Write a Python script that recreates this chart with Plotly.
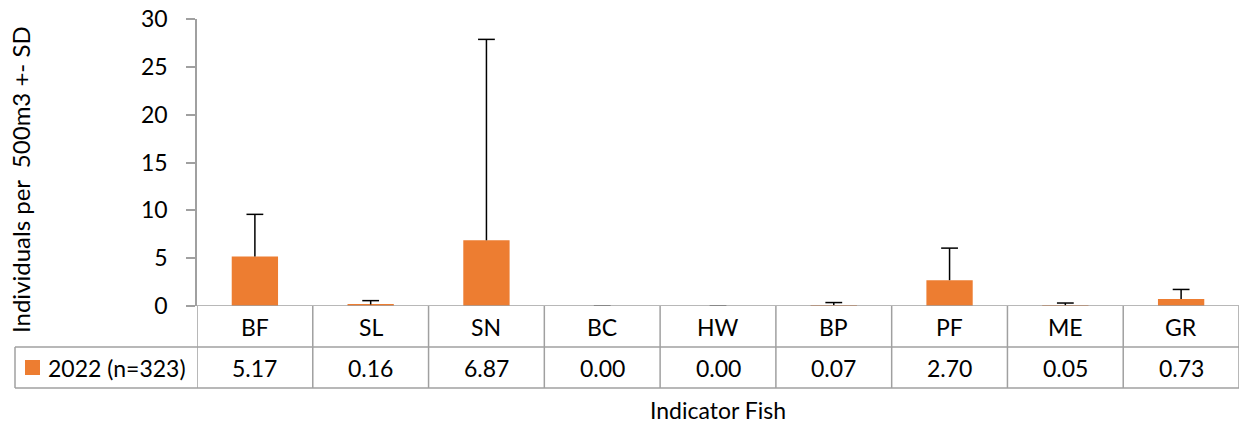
import plotly.graph_objects as go

categories = ["BF", "SL", "SN", "BC", "HW", "BP", "PF", "ME", "GR"]
means = [5.17, 0.16, 6.87, 0.00, 0.00, 0.07, 2.70, 0.05, 0.73]
sds = [4.41, 0.40, 21.0, 0.0, 0.0, 0.29, 3.35, 0.26, 1.0]
series_name = "2022 (n=323)"
y_ticks = [0, 5, 10, 15, 20, 25, 30]

W, H = 1239, 423
L, R, T, B = 197, 0, 19, 117
pw, ph = W - L - R, H - T - B
axis_y_px = H - B

def px_x(p):
    return (p - L) / pw

def px_y(p):
    return (axis_y_px - p) / ph

FONT = "Lato, 'Open Sans', sans-serif"
GRAY = "#A0A0A0"
ORANGE = "#ED7D31"
FS = 23

fig = go.Figure()
fig.add_trace(go.Bar(
    x=categories, y=means, name=series_name, width=0.4,
    marker=dict(color=ORANGE, line=dict(width=0)),
    error_y=dict(type="data", array=sds, symmetric=False, arrayminus=[0] * len(sds),
                 color="#000000", thickness=1.5, width=0),
))
# caps at the top of each error bar
tops = [m + s for m, s in zip(means, sds)]
fig.add_trace(go.Scatter(
    x=categories, y=tops, mode="markers", hoverinfo="skip",
    marker=dict(symbol="line-ew", size=12, line=dict(color="#000000", width=1.5)),
))

shapes = []
row1 = px_y(347)
row2 = px_y(388)
left_cell = px_x(15)
for i in range(len(categories) + 1):
    shapes.append(dict(type="line", xref="x", yref="paper", x0=i - 0.5, x1=i - 0.5,
                       y0=0, y1=row2, line=dict(color=GRAY, width=1.5)))
shapes.append(dict(type="line", xref="paper", yref="paper", x0=left_cell, x1=1,
                   y0=row1, y1=row1, line=dict(color=GRAY, width=1.5)))
shapes.append(dict(type="line", xref="paper", yref="paper", x0=left_cell, x1=1,
                   y0=row2, y1=row2, line=dict(color=GRAY, width=1.5)))
shapes.append(dict(type="line", xref="paper", yref="paper", x0=left_cell, x1=left_cell,
                   y0=row1, y1=row2, line=dict(color=GRAY, width=1.5)))
shapes.append(dict(type="rect", xref="paper", yref="paper", x0=px_x(25), x1=px_x(40),
                   y0=px_y(375), y1=px_y(360), fillcolor=ORANGE, line=dict(width=0)))
shapes.append(dict(type="line", xref="paper", yref="y", x0=0, x1=1, y0=0, y1=0,
                   line=dict(color=GRAY, width=1.5), layer="above"))

annotations = []
for c, v in zip(categories, means):
    annotations.append(dict(x=c, xref="x", y=px_y(327), yref="paper", text=c,
                            showarrow=False, xanchor="center", yanchor="middle",
                            font=dict(family=FONT, size=FS, color="#000")))
    annotations.append(dict(x=c, xref="x", y=px_y(368), yref="paper", text=f"{v:.2f}",
                            showarrow=False, xanchor="center", yanchor="middle",
                            font=dict(family=FONT, size=FS, color="#000")))
annotations.append(dict(x=px_x(46), xref="paper", y=px_y(368), yref="paper",
                        text=series_name, showarrow=False, xanchor="left", yanchor="middle",
                        font=dict(family=FONT, size=FS, color="#000")))
annotations.append(dict(x=0.5, xref="paper", y=px_y(410), yref="paper",
                        text="Indicator Fish", showarrow=False, xanchor="center",
                        yanchor="middle", font=dict(family=FONT, size=FS, color="#000")))
annotations.append(dict(x=px_x(20), xref="paper", y=px_y(180), yref="paper",
                        text="Individuals per&nbsp; 500m3 +- SD", textangle=-90,
                        showarrow=False, xanchor="center", yanchor="middle",
                        font=dict(family=FONT, size=24, color="#000")))

fig.update_layout(
    width=W, height=H,
    margin=dict(l=L, r=R, t=T, b=B, pad=0),
    paper_bgcolor="white", plot_bgcolor="white",
    showlegend=False,
    shapes=shapes, annotations=annotations,
    xaxis=dict(type="category", showticklabels=False, ticks="", showgrid=False,
               showline=False, zeroline=False, range=[-0.5, 8.5]),
    yaxis=dict(range=[0, 30], tickvals=y_ticks, showgrid=False, zeroline=False,
               showline=True, linecolor=GRAY, linewidth=1.5,
               ticks="outside", ticklen=9, tickcolor=GRAY, tickwidth=1.5,
               ticklabelstandoff=14,
               tickfont=dict(family=FONT, size=FS, color="#000")),
)

fig.write_html("out.html", config={"displayModeBar": False},
               post_script="document.body.style.margin='0';document.body.style.overflow='hidden';")
